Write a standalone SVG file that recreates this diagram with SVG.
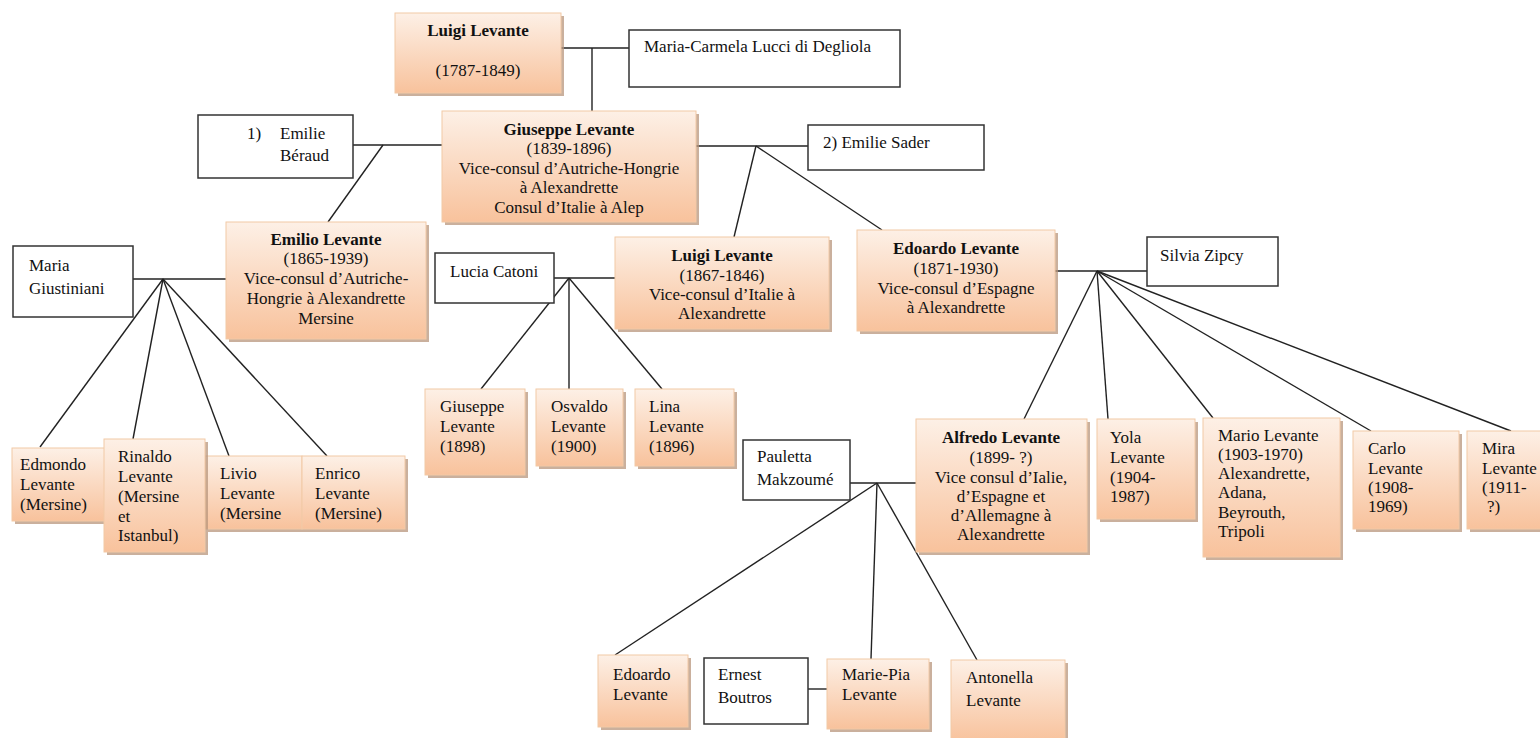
<svg xmlns="http://www.w3.org/2000/svg" width="1540" height="738" viewBox="0 0 1540 738">
<defs>
<linearGradient id="og" x1="0" y1="0" x2="0" y2="1">
<stop offset="0" stop-color="#fdf0e6"/>
<stop offset="1" stop-color="#f8c29c"/>
</linearGradient>
<style>
.sh{fill:#b8967c;opacity:0.75}
.ob{fill:url(#og);stroke:#f2c9a6;stroke-width:1}
.wb{fill:#fff;stroke:#333;stroke-width:1.5}
text{font-family:"Liberation Serif","Times New Roman",serif;font-size:17px;fill:#111}
.b{font-weight:bold}
.c{text-anchor:middle}
.ln{stroke:#222;stroke-width:1.4;fill:none}
</style>
</defs>
<rect width="1540" height="738" fill="#fff"/>

<g id="connectors" class="ln">
<line x1="561" y1="48" x2="629" y2="48"/>
<line x1="592" y1="48" x2="592" y2="111"/>
<line x1="353" y1="145" x2="442" y2="145"/>
<line x1="383" y1="145" x2="328" y2="222"/>
<line x1="696" y1="146" x2="808" y2="146"/>
<line x1="756" y1="146" x2="734" y2="237"/>
<line x1="756" y1="146" x2="882" y2="230"/>
<line x1="133" y1="279" x2="226" y2="279"/>
<line x1="163" y1="279" x2="40" y2="447"/>
<line x1="163" y1="279" x2="133" y2="439"/>
<line x1="163" y1="279" x2="229" y2="456"/>
<line x1="163" y1="279" x2="327" y2="456"/>
<line x1="554" y1="278" x2="615" y2="278"/>
<line x1="569" y1="278" x2="481" y2="389"/>
<line x1="569" y1="278" x2="569" y2="389"/>
<line x1="569" y1="278" x2="662" y2="389"/>
<line x1="1055" y1="271" x2="1147" y2="271"/>
<line x1="1097" y1="271" x2="1024" y2="419"/>
<line x1="1097" y1="271" x2="1108" y2="419"/>
<line x1="1097" y1="271" x2="1213" y2="418"/>
<line x1="1097" y1="271" x2="1371" y2="431"/>
<line x1="1097" y1="271" x2="1511" y2="431"/>
<line x1="850" y1="483" x2="916" y2="483"/>
<line x1="877" y1="483" x2="615" y2="655"/>
<line x1="877" y1="483" x2="871" y2="659"/>
<line x1="877" y1="483" x2="977" y2="660"/>
<line x1="808" y1="689" x2="827" y2="689"/>
</g>

<g id="luigi-1787">
<rect class="sh" x="398" y="16" width="166" height="80"/>
<rect class="ob" x="395" y="13" width="166" height="80"/>
<text class="b c" x="478" y="36">Luigi Levante</text>
<text class="c" x="478" y="76">(1787-1849)</text>
</g>

<g id="maria-carmela">
<rect class="wb" x="629" y="30" width="271" height="57"/>
<text x="644" y="52">Maria-Carmela Lucci di Degliola</text>
</g>

<g id="giuseppe-1839">
<rect class="sh" x="445" y="114" width="254" height="111"/>
<rect class="ob" x="442" y="111" width="254" height="111"/>
<text class="b c" x="569" y="135">Giuseppe Levante</text>
<text class="c" x="569" y="154">(1839-1896)</text>
<text class="c" x="569" y="173.5">Vice-consul d’Autriche-Hongrie</text>
<text class="c" x="569" y="193">à Alexandrette</text>
<text class="c" x="569" y="212.5">Consul d’Italie à Alep</text>
</g>

<g id="emilie-beraud">
<rect class="wb" x="198" y="115" width="155" height="63"/>
<text x="247" y="139">1)</text>
<text x="280" y="139">Emilie</text>
<text x="280" y="161">Béraud</text>
</g>

<g id="emilie-sader">
<rect class="wb" x="808" y="125" width="176" height="45"/>
<text x="823" y="148">2) Emilie Sader</text>
</g>

<g id="emilio">
<rect class="sh" x="229" y="225" width="200" height="117"/>
<rect class="ob" x="226" y="222" width="200" height="117"/>
<text class="b c" x="326" y="245">Emilio Levante</text>
<text class="c" x="326" y="264">(1865-1939)</text>
<text class="c" x="326" y="284">Vice-consul d’Autriche-</text>
<text class="c" x="326" y="304">Hongrie à Alexandrette</text>
<text class="c" x="326" y="324">Mersine</text>
</g>

<g id="maria-giustiniani">
<rect class="wb" x="13" y="246" width="120" height="71"/>
<text x="29" y="271">Maria</text>
<text x="29" y="294">Giustiniani</text>
</g>

<g id="luigi-1867">
<rect class="sh" x="618" y="240" width="214" height="92"/>
<rect class="ob" x="615" y="237" width="214" height="92"/>
<text class="b c" x="722" y="261">Luigi Levante</text>
<text class="c" x="722" y="281">(1867-1846)</text>
<text class="c" x="722" y="300">Vice-consul d’Italie à</text>
<text class="c" x="722" y="319">Alexandrette</text>
</g>

<g id="lucia-catoni">
<rect class="wb" x="435" y="253" width="119" height="50"/>
<text x="450" y="277">Lucia Catoni</text>
</g>

<g id="edoardo-1871">
<rect class="sh" x="860" y="233" width="198" height="101"/>
<rect class="ob" x="857" y="230" width="198" height="101"/>
<text class="b c" x="956" y="254">Edoardo Levante</text>
<text class="c" x="956" y="274">(1871-1930)</text>
<text class="c" x="956" y="294">Vice-consul d’Espagne</text>
<text class="c" x="956" y="313">à Alexandrette</text>
</g>

<g id="silvia-zipcy">
<rect class="wb" x="1147" y="237" width="131" height="49"/>
<text x="1160" y="261">Silvia Zipcy</text>
</g>

<g id="edmondo">
<rect class="sh" x="15" y="451" width="93" height="73"/>
<rect class="ob" x="12" y="448" width="93" height="73"/>
<text x="20" y="470">Edmondo</text>
<text x="20" y="490">Levante</text>
<text x="20" y="510">(Mersine)</text>
</g>

<g id="livio">
<rect class="sh" x="208" y="459" width="97" height="73"/>
<rect class="ob" x="205" y="456" width="97" height="73"/>
<text x="220" y="479">Livio</text>
<text x="220" y="499">Levante</text>
<text x="220" y="519">(Mersine</text>
</g>

<g id="enrico">
<rect class="sh" x="305" y="459" width="103" height="73"/>
<rect class="ob" x="302" y="456" width="103" height="73"/>
<text x="315" y="479">Enrico</text>
<text x="315" y="499">Levante</text>
<text x="315" y="519">(Mersine)</text>
</g>

<g id="rinaldo">
<rect class="sh" x="107" y="442" width="101" height="113"/>
<rect class="ob" x="104" y="439" width="101" height="113"/>
<text x="118" y="462">Rinaldo</text>
<text x="118" y="482">Levante</text>
<text x="118" y="502">(Mersine</text>
<text x="118" y="522">et</text>
<text x="118" y="541">Istanbul)</text>
</g>

<g id="giuseppe-1898">
<rect class="sh" x="428" y="392" width="100" height="86"/>
<rect class="ob" x="425" y="389" width="100" height="86"/>
<text x="440" y="412">Giuseppe</text>
<text x="440" y="432">Levante</text>
<text x="440" y="452">(1898)</text>
</g>

<g id="osvaldo">
<rect class="sh" x="539" y="392" width="87" height="77"/>
<rect class="ob" x="536" y="389" width="87" height="77"/>
<text x="551" y="412">Osvaldo</text>
<text x="551" y="432">Levante</text>
<text x="551" y="452">(1900)</text>
</g>

<g id="lina">
<rect class="sh" x="638" y="392" width="99" height="77"/>
<rect class="ob" x="635" y="389" width="99" height="77"/>
<text x="649" y="412">Lina</text>
<text x="649" y="432">Levante</text>
<text x="649" y="452">(1896)</text>
</g>

<g id="alfredo">
<rect class="sh" x="919" y="422" width="171" height="133"/>
<rect class="ob" x="916" y="419" width="171" height="133"/>
<text class="b c" x="1001" y="443">Alfredo Levante</text>
<text class="c" x="1001" y="463">(1899- ?)</text>
<text class="c" x="1001" y="483">Vice consul d’Ialie,</text>
<text class="c" x="1001" y="502">d’Espagne et</text>
<text class="c" x="1001" y="521">d’Allemagne à</text>
<text class="c" x="1001" y="540">Alexandrette</text>
</g>

<g id="yola">
<rect class="sh" x="1100" y="422" width="98" height="100"/>
<rect class="ob" x="1097" y="419" width="98" height="100"/>
<text x="1110" y="443">Yola</text>
<text x="1110" y="463">Levante</text>
<text x="1110" y="483">(1904-</text>
<text x="1110" y="502">1987)</text>
</g>

<g id="mario">
<rect class="sh" x="1206" y="421" width="137" height="139"/>
<rect class="ob" x="1203" y="418" width="137" height="139"/>
<text x="1218" y="441">Mario Levante</text>
<text x="1218" y="460">(1903-1970)</text>
<text x="1218" y="479">Alexandrette,</text>
<text x="1218" y="498">Adana,</text>
<text x="1218" y="518">Beyrouth,</text>
<text x="1218" y="537">Tripoli</text>
</g>

<g id="carlo">
<rect class="sh" x="1356" y="434" width="106" height="98"/>
<rect class="ob" x="1353" y="431" width="106" height="98"/>
<text x="1368" y="454">Carlo</text>
<text x="1368" y="474">Levante</text>
<text x="1368" y="493">(1908-</text>
<text x="1368" y="512">1969)</text>
</g>

<g id="mira">
<rect class="sh" x="1470" y="434" width="80" height="98"/>
<rect class="ob" x="1467" y="431" width="80" height="98"/>
<text x="1482" y="454">Mira</text>
<text x="1482" y="474">Levante</text>
<text x="1482" y="493">(1911-</text>
<text x="1487" y="512">?)</text>
</g>

<g id="pauletta">
<rect class="wb" x="743" y="440" width="107" height="60"/>
<text x="757" y="462">Pauletta</text>
<text x="757" y="485">Makzoumé</text>
</g>

<g id="edoardo-grandson">
<rect class="sh" x="601" y="658" width="90" height="72"/>
<rect class="ob" x="598" y="655" width="90" height="72"/>
<text x="613" y="680">Edoardo</text>
<text x="613" y="700">Levante</text>
</g>

<g id="ernest-boutros">
<rect class="wb" x="704" y="658" width="104" height="66"/>
<text x="718" y="680">Ernest</text>
<text x="718" y="703">Boutros</text>
</g>

<g id="marie-pia">
<rect class="sh" x="830" y="662" width="102" height="70"/>
<rect class="ob" x="827" y="659" width="102" height="70"/>
<text x="842" y="680">Marie-Pia</text>
<text x="842" y="700">Levante</text>
</g>

<g id="antonella">
<rect class="sh" x="954" y="663" width="114" height="82"/>
<rect class="ob" x="951" y="660" width="114" height="82"/>
<text x="966" y="683">Antonella</text>
<text x="966" y="706">Levante</text>
</g>
</svg>
